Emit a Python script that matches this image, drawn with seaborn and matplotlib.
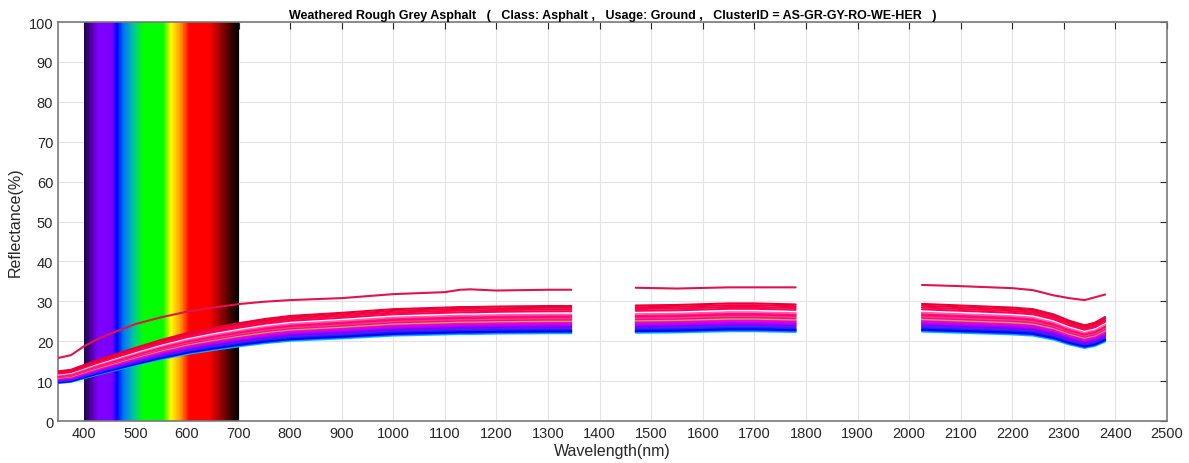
import numpy as np
import pandas as pd
import matplotlib
matplotlib.use("Agg")
import matplotlib.pyplot as plt
from matplotlib.colors import LinearSegmentedColormap
import seaborn as sns

# ---------------- data ----------------
seg1_wl = [350, 375, 400, 425, 450, 500, 550, 600, 650, 700, 750, 800, 900, 1000, 1100, 1130, 1150, 1200, 1300, 1345]
seg2_wl = [1470, 1550, 1650, 1700, 1780]
seg3_wl = [2025, 2100, 2200, 2240, 2280, 2310, 2340, 2360, 2380]

# lowest spectrum of the cluster (reflectance %)
base1 = [9.5, 9.8, 10.7, 11.6, 12.4, 14.0, 15.5, 16.8, 17.8, 18.7, 19.5, 20.1, 20.7, 21.4, 21.7, 21.8, 21.8, 21.9, 22.0, 22.0]
base2 = [22.1, 22.2, 22.5, 22.5, 22.3]
base3 = [22.4, 22.1, 21.7, 21.4, 20.4, 19.2, 18.3, 18.8, 19.9]

# outlier (brightest) spectrum
top1 = [15.8, 16.5, 18.7, 20.4, 21.8, 24.3, 26.0, 27.4, 28.4, 29.3, 29.9, 30.3, 30.8, 31.8, 32.3, 32.9, 33.0, 32.7, 32.9, 32.9]
top2 = [33.4, 33.2, 33.5, 33.5, 33.5]
top3 = [34.1, 33.8, 33.3, 32.8, 31.5, 30.8, 30.3, 31.0, 31.7]

# relative brightness of the other spectra vs. the lowest one
line_scales = [1.00, 1.01, 1.02, 1.03, 1.045, 1.06, 1.075, 1.09, 1.10, 1.115, 1.13,
               1.14, 1.155, 1.17, 1.185, 1.20, 1.215, 1.235, 1.25, 1.27, 1.29, 1.31]
line_colors = ['#00C8FF', '#0080FF', '#0000FF', '#0808F0', '#2020FF', '#5020FF', '#8000FF',
               '#A000FF', '#C000F0', '#E000E0', '#FF00D0', '#B8B040', '#FF00B0', '#FF4060',
               '#FF0090', '#FF1080', '#FF60A0', '#FFFFFF', '#FF0060', '#FF0045', '#F00035', '#E8003A']
outlier_color = '#E0144C'

title = ("Weathered Rough Grey Asphalt   (   Class: Asphalt ,   Usage: Ground ,   "
         "ClusterID = AS-GR-GY-RO-WE-HER   )")
xticks = list(range(400, 2501, 100))
yticks = list(range(0, 101, 10))

# ---------------- build long table ----------------
rows = []
segs = [(seg1_wl, base1, top1), (seg2_wl, base2, top2), (seg3_wl, base3, top3)]
for i, s in enumerate(line_scales):
    for j, (wl, b, _) in enumerate(segs):
        for w, v in zip(wl, b):
            rows.append((w, v * s, f"L{i:02d}", j))
for j, (wl, _, t) in enumerate(segs):
    for w, v in zip(wl, t):
        rows.append((w, v, "L99", j))
df = pd.DataFrame(rows, columns=["wl", "refl", "line", "seg"])
palette = {f"L{i:02d}": c for i, c in enumerate(line_colors)}
palette["L99"] = outlier_color

# ---------------- plot ----------------
sns.set_theme(style="white")
plt.rcParams['font.family'] = ['Liberation Sans', 'DejaVu Sans']

fig = plt.figure(figsize=(11.89, 4.64), dpi=100)
ax = fig.add_axes([0.0488, 0.0905, 0.9327, 0.8599])

# visible spectrum band
spec_cmap = LinearSegmentedColormap.from_list("vis", [
    (0.00, '#1a0a4a'), (0.04, '#5000a0'), (0.09, '#7f00ff'), (0.18, '#7a00ff'),
    (0.21, '#0000ff'), (0.25, '#0070ff'), (0.32, '#00c8a0'), (0.38, '#00ff00'),
    (0.51, '#00ff00'), (0.56, '#ffff00'), (0.62, '#ffa000'), (0.68, '#ff0000'),
    (0.81, '#ff0000'), (0.88, '#a00000'), (0.96, '#300000'), (1.00, '#000000')])
ax.imshow(np.linspace(0, 1, 300)[None, :], cmap=spec_cmap, aspect='auto',
          extent=[400, 700, 0, 100], zorder=1, interpolation='bilinear')

sns.lineplot(data=df, x="wl", y="refl", hue="line", units="seg", estimator=None,
             palette=palette, sort=False, legend=False, linewidth=1.5, ax=ax, zorder=3)

ax.set_xlim(350, 2500)
ax.set_ylim(0, 100)
ax.set_xticks(xticks)
ax.set_yticks(yticks)
ax.grid(True, color='#E3E3E3', linewidth=0.8)
ax.set_axisbelow(True)
ax.tick_params(direction='in', top=True, right=True, length=5, width=0.8,
               colors='#262626', labelsize=10.5, labelcolor='#262626')
for sp in ax.spines.values():
    sp.set_color('#7a7a7a')
    sp.set_linewidth(1.2)
ax.set_xlabel("Wavelength(nm)", fontsize=11.5, color='#262626', labelpad=2)
ax.set_ylabel("Reflectance(%)", fontsize=11.5, color='#262626', labelpad=4)
ax.set_title(title, fontsize=9, fontweight='bold', color='black', pad=3)

fig.savefig("out.png", dpi=100)
